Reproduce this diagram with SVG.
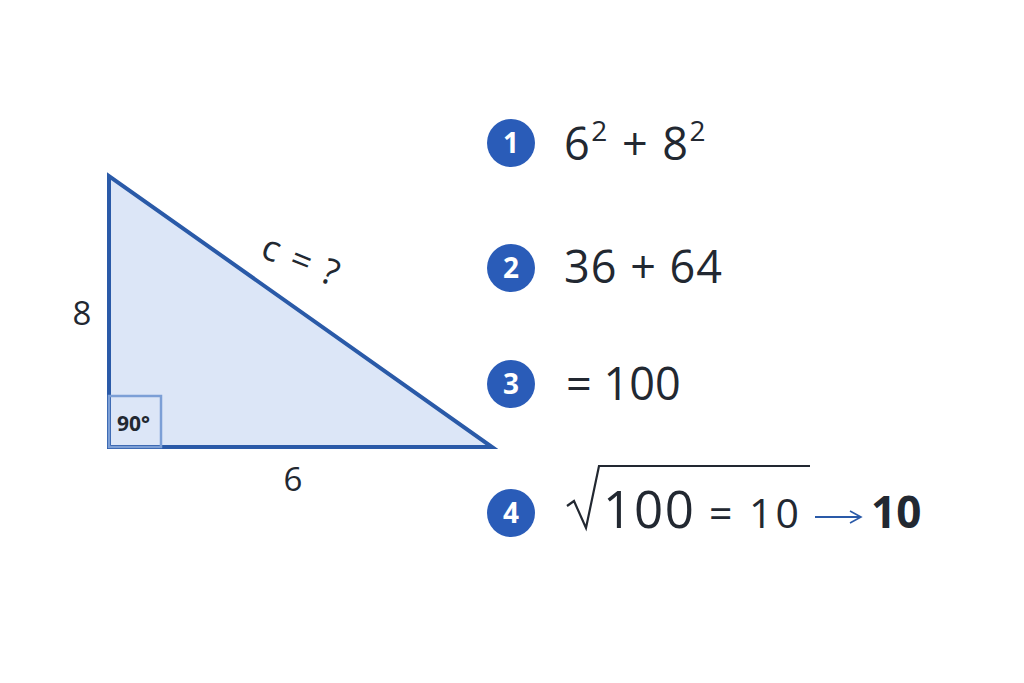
<svg xmlns="http://www.w3.org/2000/svg" width="1024" height="683" viewBox="0 0 1024 683">
<defs>
<style>
.t{font-family:"Open Sans","Noto Sans","Liberation Sans",sans-serif;fill:#222831}
.eq{font-size:45px}
.num{font-family:"Open Sans","Noto Sans","Liberation Sans",sans-serif;font-size:28px;font-weight:bold;fill:#fff;text-anchor:middle}
.badge{fill:#2a5cb8}
</style>
<marker id="ah" markerWidth="14" markerHeight="14" refX="12" refY="7" orient="auto" markerUnits="userSpaceOnUse">
<path d="M1,1 L12,7 L1,13" fill="none" stroke="#2a5aa8" stroke-width="1.6"/>
</marker>
</defs>
<rect width="1024" height="683" fill="#fff"/>
<g id="triangle">
<polygon points="109,176 109,447 492,447" fill="#dce6f7" stroke="#2a5aa8" stroke-width="4" stroke-linejoin="miter"/>
<rect x="109" y="396" width="52" height="51" fill="none" stroke="#7c9fd6" stroke-width="2.5"/>
<text class="t" x="117" y="431" font-size="21" font-weight="bold" fill="#333">90°</text>
<text class="t" x="82" y="325" font-size="33" text-anchor="middle">8</text>
<text class="t" x="293" y="491" font-size="33" text-anchor="middle">6</text>
<text class="t" x="297" y="272" font-size="36" text-anchor="middle" letter-spacing="2" transform="rotate(22 297 272)">c = ?</text>
</g>
<g id="step1">
<circle class="badge" cx="511" cy="143" r="24"/>
<text class="num" x="511" y="153">1</text>
<text class="t eq" x="564" y="160" letter-spacing="1.5">6<tspan font-size="28" dy="-19">2</tspan><tspan dy="19"> + 8</tspan><tspan font-size="28" dy="-19">2</tspan></text>
</g>
<g id="step2">
<circle class="badge" cx="511" cy="268" r="24"/>
<text class="num" x="511" y="278">2</text>
<text class="t eq" x="564" y="283" letter-spacing="1">36 + 64</text>
</g>
<g id="step3">
<circle class="badge" cx="511" cy="384" r="24"/>
<text class="num" x="511" y="394">3</text>
<text class="t eq" x="566" y="400">= 100</text>
</g>
<g id="step4">
<circle class="badge" cx="511" cy="513" r="24"/>
<text class="num" x="511" y="523">4</text>
<path d="M567,506 L574,501 L586,528 L599,466 L810,466" fill="none" stroke="#222831" stroke-width="2.2"/>
<text class="t" x="603" y="528" font-size="51" textLength="91">100</text>
<text class="t" x="709" y="528" font-size="41" textLength="90">= 10</text>
<text class="t" x="871" y="528" font-size="44" font-weight="bold">10</text>
</g>
<g id="connectors">
<line x1="815" y1="517" x2="861" y2="517" stroke="#2a5aa8" stroke-width="1.8" marker-end="url(#ah)"/>
</g>
</svg>
